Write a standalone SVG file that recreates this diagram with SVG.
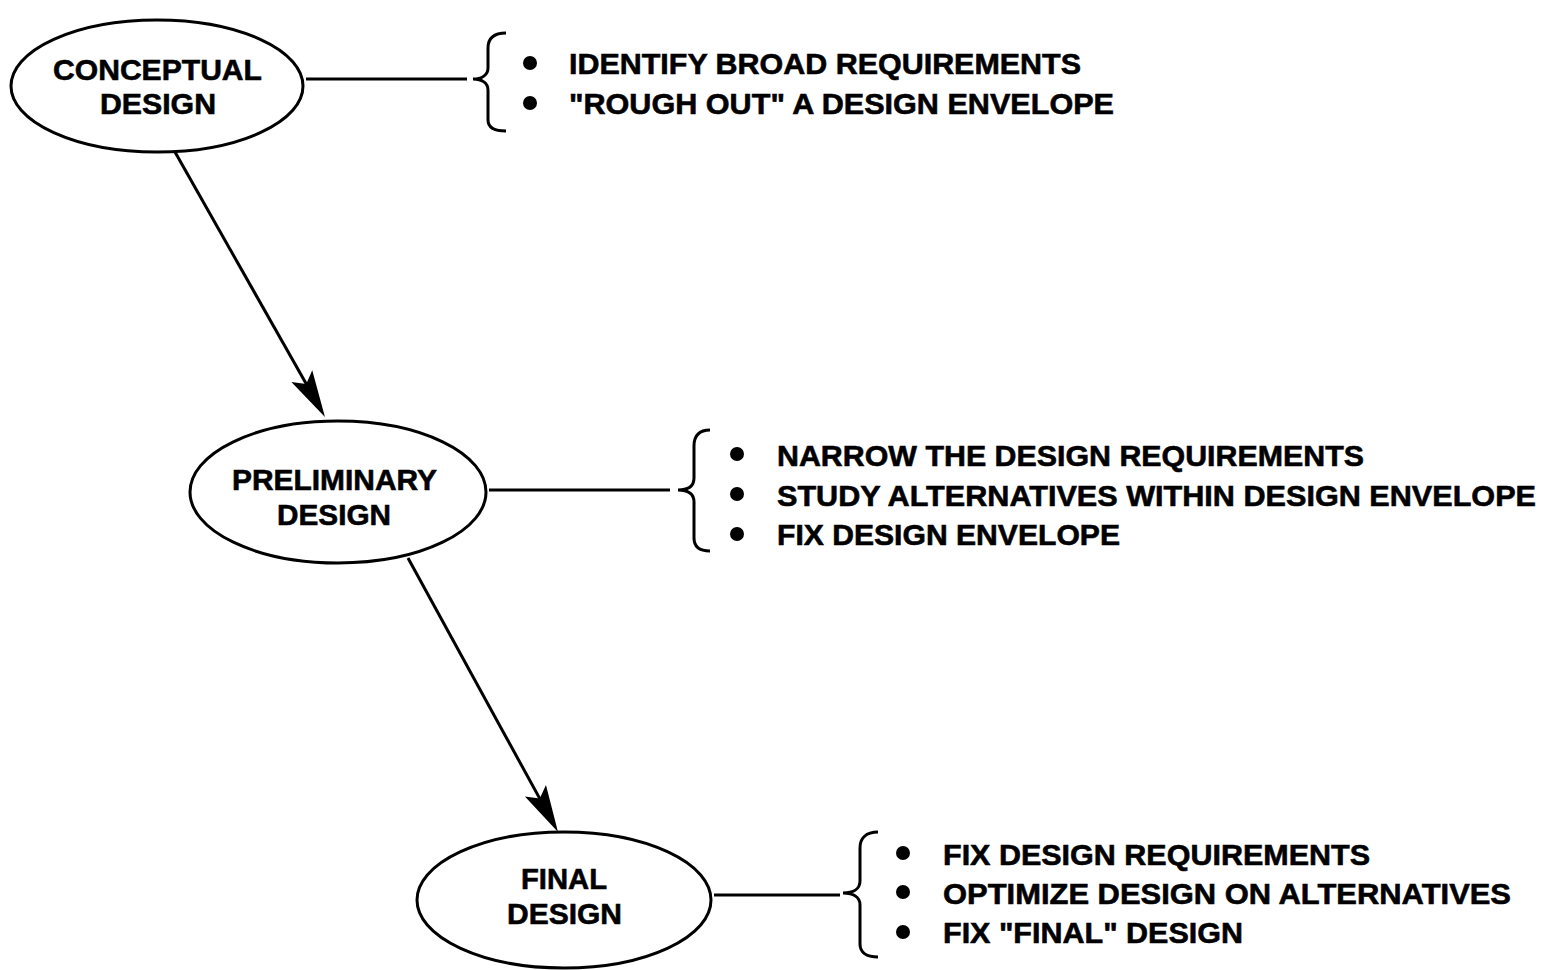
<svg xmlns="http://www.w3.org/2000/svg" width="1548" height="970" viewBox="0 0 1548 970">
  <style>
    .shape { fill: none; stroke: #000; stroke-width: 3; }
    .label { font-family: "Liberation Sans", Arial, sans-serif; font-weight: bold; font-size: 30px; fill: #000; stroke: #000; stroke-width: 0.6; }
    .mid { text-anchor: middle; }
    .dot { fill: #000; }
  </style>
  <defs>
    <marker id="head" markerUnits="userSpaceOnUse" orient="auto" viewBox="-30 -15 52 30" refX="0" refY="0" markerWidth="52" markerHeight="30">
      <path d="M20,0 L-27,-12 L-18,0 L-27,12 Z" fill="#000"/>
    </marker>
  </defs>
  <rect width="1548" height="970" fill="#fff"/>

  <!-- phase connectors -->
  <g id="connectors">
    <line class="shape" x1="175" y1="152" x2="315.1" y2="399.6" marker-end="url(#head)"/>
    <line class="shape" x1="408" y1="558" x2="548.4" y2="814.4" marker-end="url(#head)"/>
    <line class="shape" x1="306" y1="79" x2="467" y2="79"/>
    <line class="shape" x1="489" y1="490" x2="670" y2="490"/>
    <line class="shape" x1="714" y1="895" x2="840" y2="895"/>
  </g>

  <g id="conceptual">
    <ellipse class="shape" cx="157" cy="86" rx="146" ry="66"/>
    <text class="label mid" x="157.5" y="80" textLength="209" lengthAdjust="spacingAndGlyphs">CONCEPTUAL</text>
    <text class="label mid" x="158" y="114" textLength="116" lengthAdjust="spacingAndGlyphs">DESIGN</text>
  </g>

  <g id="conceptual-notes">
    <path class="shape" d="M506 33 C494 33 488 38 488 48 L488 68 C488 75 482 79 473 79 C482 79 488 83 488 90 L488 120 C488 127 494 131 506 131"/>
    <circle class="dot" cx="530" cy="63" r="7"/>
    <circle class="dot" cx="530" cy="103" r="7"/>
    <text class="label" x="569" y="74" textLength="512" lengthAdjust="spacingAndGlyphs">IDENTIFY BROAD REQUIREMENTS</text>
    <text class="label" x="569" y="114" textLength="545" lengthAdjust="spacingAndGlyphs">"ROUGH OUT" A DESIGN ENVELOPE</text>
  </g>

  <g id="preliminary">
    <ellipse class="shape" cx="338" cy="492" rx="148" ry="71"/>
    <text class="label mid" x="334.5" y="490" textLength="205" lengthAdjust="spacingAndGlyphs">PRELIMINARY</text>
    <text class="label mid" x="334" y="525" textLength="114" lengthAdjust="spacingAndGlyphs">DESIGN</text>
  </g>

  <g id="preliminary-notes">
    <path class="shape" d="M710 430 C699 430 694 436 694 446 L694 478 C694 486 688 490 678 490 C688 490 694 494 694 502 L694 538 C694 546 699 551 710 551"/>
    <circle class="dot" cx="737" cy="454" r="7"/>
    <circle class="dot" cx="737" cy="494" r="7"/>
    <circle class="dot" cx="737" cy="534" r="7"/>
    <text class="label" x="777" y="466" textLength="587" lengthAdjust="spacingAndGlyphs">NARROW THE DESIGN REQUIREMENTS</text>
    <text class="label" x="777" y="506" textLength="759" lengthAdjust="spacingAndGlyphs">STUDY ALTERNATIVES WITHIN DESIGN ENVELOPE</text>
    <text class="label" x="777" y="545" textLength="343" lengthAdjust="spacingAndGlyphs">FIX DESIGN ENVELOPE</text>
  </g>

  <g id="final">
    <ellipse class="shape" cx="564" cy="900" rx="147" ry="68"/>
    <text class="label mid" x="564" y="889" textLength="86" lengthAdjust="spacingAndGlyphs">FINAL</text>
    <text class="label mid" x="564.5" y="924" textLength="115" lengthAdjust="spacingAndGlyphs">DESIGN</text>
  </g>

  <g id="final-notes">
    <path class="shape" d="M878 832 C866 832 860 838 860 848 L860 881 C860 889 853 893 843 893 C853 893 860 897 860 905 L860 944 C860 952 866 957 878 957"/>
    <circle class="dot" cx="903" cy="853" r="7"/>
    <circle class="dot" cx="903" cy="892" r="7"/>
    <circle class="dot" cx="903" cy="932" r="7"/>
    <text class="label" x="943" y="865" textLength="427" lengthAdjust="spacingAndGlyphs">FIX DESIGN REQUIREMENTS</text>
    <text class="label" x="943" y="904" textLength="568" lengthAdjust="spacingAndGlyphs">OPTIMIZE DESIGN ON ALTERNATIVES</text>
    <text class="label" x="943" y="943" textLength="300" lengthAdjust="spacingAndGlyphs">FIX "FINAL" DESIGN</text>
  </g>
</svg>
